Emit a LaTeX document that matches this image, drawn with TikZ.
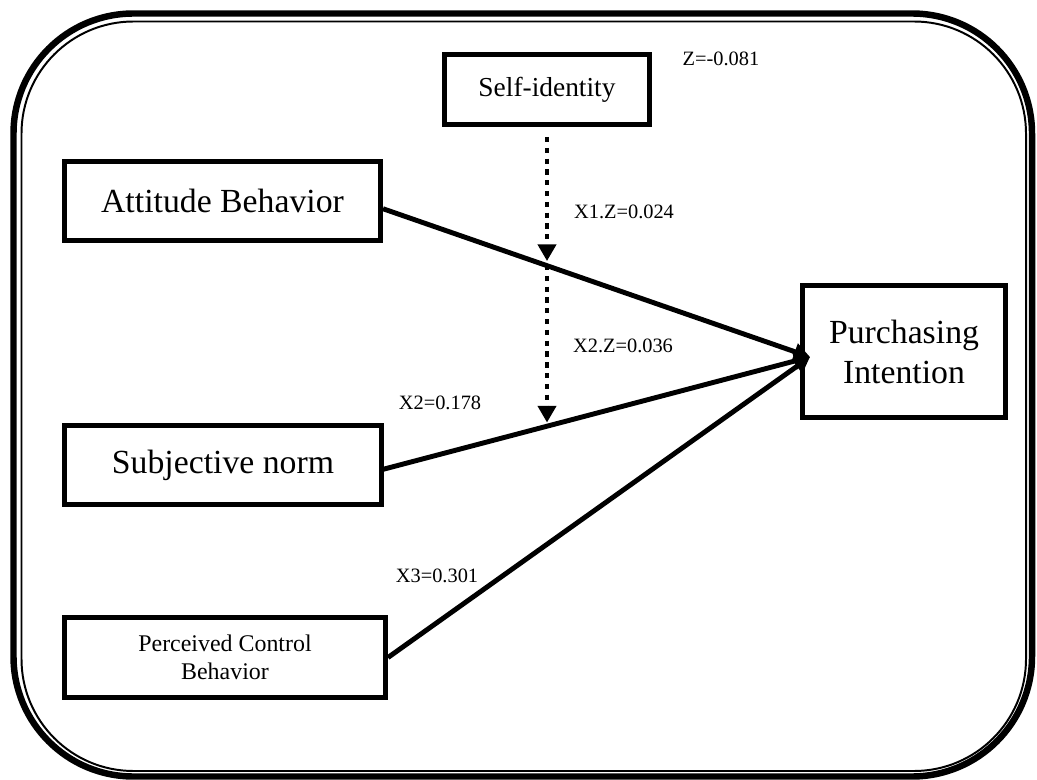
\documentclass[tikz,border=0pt]{standalone}
\usepackage{fontspec}
\setmainfont{Liberation Serif}
\usetikzlibrary{arrows.meta,positioning,calc}

\begin{document}
\begin{tikzpicture}[
        x=0.025cm, y=-0.025cm,
        block/.style={draw, line width=3.5pt, rectangle, inner sep=0pt, minimum width=7.9cm, minimum height=1.975cm, align=center, font=\fontsize{24}{28.5}\selectfont},
        small/.style={block, font=\fontsize{17}{20}\selectfont},
        lbl/.style={inner sep=0pt, font=\fontsize{14.5}{17}\selectfont},
        arr/.style={line width=3.5pt, -{Triangle[length=0.4cm, width=0.42cm]}},
        modarr/.style={line width=3.5pt, dash pattern=on 0.13cm off 0.14cm, shorten <=0.25cm, shorten >=0.1cm, -{Triangle[length=0.42cm, width=0.45cm]}}
    ]
        \useasboundingbox (0,0) rectangle (1037,780);
        % Frame
        \draw[line width=4.6pt, rounded corners=3cm] (13.5,13.5) rectangle (1032,776.5);
        \draw[line width=1.4pt, rounded corners=2.8cm] (21.5,21.5) rectangle (1026,771);

        % Nodes
        \node[block, minimum width=5.125cm, minimum height=1.75cm, font=\fontsize{19.5}{23}\selectfont] (self) at (547,89.5) {Self-identity};
        \node[block] (att) at (222.5,201) {Attitude Behavior};
        \node[block] (sn) at (223,465) {Subjective norm};
        \node[small, minimum width=8.025cm, minimum height=2cm] (pcb) at (225,657.5) {Perceived Control\\Behavior};
        \node[block, minimum width=5.075cm, minimum height=3.3cm] (pi) at (904,351.5) {Purchasing\\Intention};
        \coordinate (tip) at ([shift={(10,5.5)}]pi.west);

        \node[lbl] (zval) at (721,59) {Z=-0.081};
        \node[lbl] (x1z) at (624,212) {X1.Z=0.024};
        \node[lbl] (x2z) at (623,346) {X2.Z=0.036};
        \node[lbl] (x2) at (440,403) {X2=0.178};
        \node[lbl] (x3) at (437,576) {X3=0.301};

        % Connectors
        \draw[arr] ([yshift=-5.5pt]att.east) -- coordinate[pos=0.38] (onatt) (tip);
        \draw[arr] ([yshift=-3pt]sn.east) -- coordinate[pos=0.38] (onsn) (tip);
        \draw[arr] (pcb.east) -- (tip);
        \draw[modarr] (self.south) -- (self.south |- onatt);
        \draw[modarr, shorten <=0pt] (self.south |- onatt) -- (self.south |- onsn);
    \end{tikzpicture}
\end{document}
